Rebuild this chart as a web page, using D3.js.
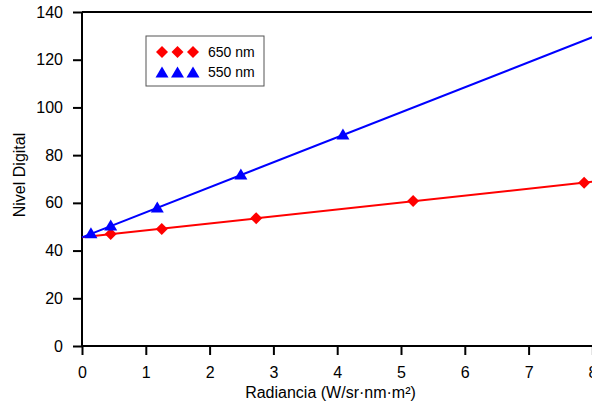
<!DOCTYPE html>
<html>
<head>
<meta charset="utf-8">
<script src="https://cdn.jsdelivr.net/npm/d3@7"></script>
<style>
	body { margin: 0; background: #fff; }
	svg { display: block; font-family: Arial, "Liberation Sans", Helvetica, sans-serif; }
</style>
</head>
<body>
<svg id="chart" width="592" height="405"></svg>
<script>
(function() {

	// data
	var x650 = [0.45, 1.25, 2.73, 5.19, 7.87];
	var y650 = [46.9, 49.0, 53.6, 60.8, 68.4];
	var x550 = [0.14, 0.45, 1.18, 2.49, 4.09];
	var y550 = [47.0, 50.3, 57.8, 71.7, 88.4];

	var xTicks = [0, 1, 2, 3, 4, 5, 6, 7, 8];
	var yTicks = [0, 20, 40, 60, 80, 100, 120, 140];

	var series = [
		{ name: '650 nm', xs: x650, ys: y650, color: '#ff0000', shape: 'diamond' },
		{ name: '550 nm', xs: x550, ys: y550, color: '#0000ff', shape: 'triangle' }
	];

	// least squares fit
	function fit(xs, ys) {
		var mx = d3.mean(xs), my = d3.mean(ys);
		var sxy = d3.sum(xs, function(d, i) { return (d - mx) * (ys[i] - my); });
		var sxx = d3.sum(xs, function(d) { return (d - mx) * (d - mx); });
		var b = sxy / sxx;
		return { a: my - b * mx, b: b };
	}

	function symbolPath(shape) {
		if (shape == 'diamond') return 'M0,-6L6,0L0,6L-6,0Z';
		return 'M0,-6.5L6.5,4.5L-6.5,4.5Z';
	}

	var svg = d3.select('#chart');

	var x = d3.scaleLinear().domain([0, 8]).range([82, 592.4]);
	var y = d3.scaleLinear().domain([0, 140]).range([346, 12]);

	// frame top
	svg.append('line')
		.attr('x1', x(0)).attr('x2', 600)
		.attr('y1', y(140)).attr('y2', y(140))
		.style('stroke', '#000')
		.style('stroke-width', 2);

	var xAxis = d3.axisBottom(x).tickValues(xTicks).tickSize(9).tickSizeOuter(0).tickPadding(12);
	var yAxis = d3.axisLeft(y).tickValues(yTicks).tickSize(9).tickSizeOuter(0).tickPadding(10);

	svg.append('g')
		.attr('class', 'x axis')
		.attr('transform', 'translate(0,' + y(0) + ')')
		.call(xAxis);

	svg.append('g')
		.attr('class', 'y axis')
		.attr('transform', 'translate(' + x(0) + ',0)')
		.call(yAxis);

	svg.selectAll('.axis path')
		.attr('d', function() {
			return d3.select(this.parentNode).classed('x') ? 'M' + x(0) + ',0H600' : 'M0,' + y(0) + 'V' + y(140);
		})
		.style('stroke', '#000')
		.style('stroke-width', 2)
		.style('fill', 'none');

	svg.selectAll('.axis line')
		.style('stroke', '#000')
		.style('stroke-width', 2);

	svg.selectAll('.axis text')
		.style('font-size', '16px')
		.style('font-family', 'Arial, "Liberation Sans", Helvetica')
		.style('fill', '#000');

	// axis titles
	svg.append('text')
		.attr('x', 330.5)
		.attr('y', 398)
		.style('font-size', '16px')
		.style('text-anchor', 'middle')
		.text('Radiancia (W/sr\u00b7nm\u00b7m\u00b2)');

	svg.append('text')
		.attr('transform', 'translate(25,175) rotate(-90)')
		.style('font-size', '16px')
		.style('text-anchor', 'middle')
		.text('Nivel Digital');

	// fit lines and points
	var line = d3.line()
		.x(function(d) { return x(d[0]); })
		.y(function(d) { return y(d[1]); });

	series.forEach(function(s) {
		var f = fit(s.xs, s.ys);
		svg.append('path')
			.attr('d', line([[0, f.a], [8.2, f.a + f.b * 8.2]]))
			.style('stroke', s.color)
			.style('stroke-width', 2)
			.style('fill', 'none');

		svg.append('g').selectAll('path')
			.data(s.xs)
			.enter().append('path')
			.attr('transform', function(d, i) { return 'translate(' + x(d) + ',' + y(s.ys[i]) + ')'; })
			.attr('d', symbolPath(s.shape))
			.style('fill', s.color);
	});

	// legend
	var legend = svg.append('g').attr('transform', 'translate(146,36)');

	legend.append('rect')
		.attr('width', 118)
		.attr('height', 50)
		.style('fill', '#fff')
		.style('stroke', '#555')
		.style('stroke-width', 1);

	series.forEach(function(s, i) {
		var row = legend.append('g').attr('transform', 'translate(0,' + (16 + i * 20) + ')');
		[16, 31.5, 47].forEach(function(cx) {
			row.append('path')
				.attr('transform', 'translate(' + cx + ',' + (s.shape == 'triangle' ? 1 : 0) + ')')
				.attr('d', symbolPath(s.shape))
				.style('fill', s.color);
		});
		row.append('text')
			.attr('x', 62)
			.attr('y', 5)
			.style('font-size', '14px')
			.text(s.name);
	});

})();
</script>
</body>
</html>
